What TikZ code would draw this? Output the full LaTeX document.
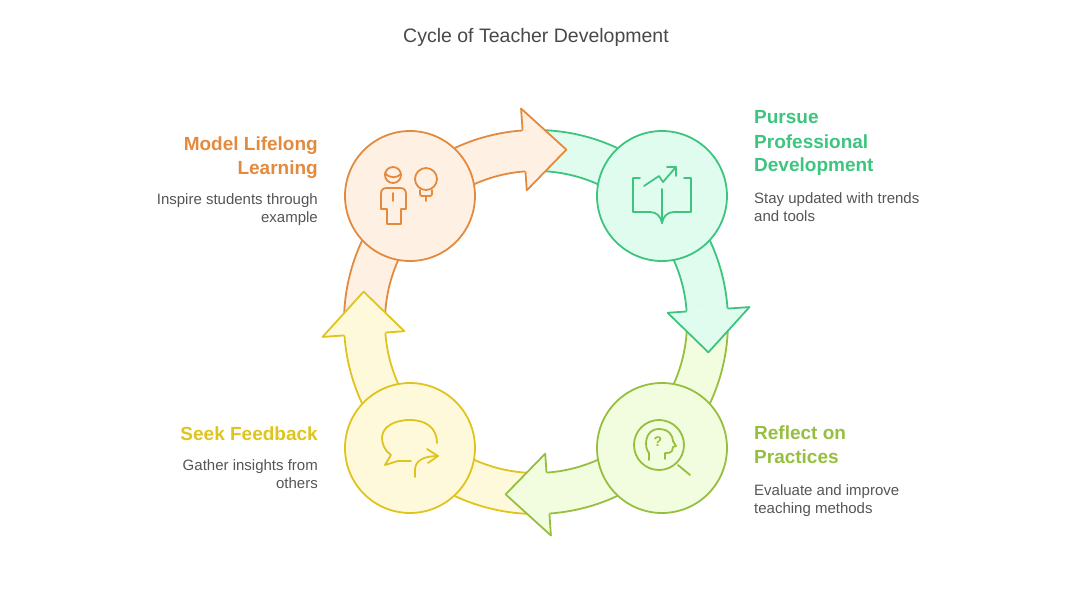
\documentclass[tikz,border=0pt]{standalone}
\usepackage{fontspec}
\setmainfont{Liberation Sans}
\usetikzlibrary{arrows.meta}
\definecolor{orangeline}{HTML}{E38A3E}
\definecolor{orangefill}{HTML}{FEF0E3}
\definecolor{greenline}{HTML}{3DC47E}
\definecolor{greenfill}{HTML}{E0FCEF}
\definecolor{limeline}{HTML}{96BF3F}
\definecolor{limefill}{HTML}{F2FDE0}
\definecolor{yellowline}{HTML}{E0C41E}
\definecolor{yellowfill}{HTML}{FEF9DB}
\definecolor{textgray}{HTML}{555555}

\begin{document}
\begin{tikzpicture}[x=1pt, y=1pt, line join=round,
  stage/.style={circle, draw, line width=1.8pt, minimum size=130pt, inner sep=0pt},
  icon/.style={line width=1.8pt, line cap=round},
  heading/.style={font=\fontsize{19}{24}\selectfont\bfseries, inner sep=0pt},
  desc/.style={font=\fontsize{15}{18}\selectfont, text=textgray, inner sep=0pt}]

  \newcommand\Rin{151}
  \newcommand\Rout{192}

  \useasboundingbox (-536,-281) rectangle (536,322);

  \foreach \a/\f/\l in {0/orangefill/orangeline, 90/greenfill/greenline,
                        180/limefill/limeline, 270/yellowfill/yellowline}{
    \begin{scope}[rotate=-\a]
      \fill[\f] (180:\Rout) arc[start angle=180, end angle=94, radius=\Rout]
        -- (94:\Rin) arc[start angle=94, end angle=180, radius=\Rin] -- cycle;
      \draw[\l, line width=1.8pt] (180:\Rout) arc[start angle=180, end angle=94, radius=\Rout];
      \draw[\l, line width=1.8pt] (94:\Rin) arc[start angle=94, end angle=180, radius=\Rin];
    \end{scope}
  }
  \foreach \a/\f/\l in {0/orangefill/orangeline, 90/greenfill/greenline,
                        180/limefill/limeline, 270/yellowfill/yellowline}{
    \filldraw[rotate=-\a, fill=\f, draw=\l, line width=1.8pt]
      (94:\Rout) -- (94:214) -- (80:175) -- (94:132) -- (94:\Rin);
  }

  \node[stage, draw=orangeline, fill=orangefill] (ml) at (-126,126) {};
  \node[stage, draw=greenline, fill=greenfill] (ppd) at (126,126) {};
  \node[stage, draw=limeline, fill=limefill] (rp) at (126,-126) {};
  \node[stage, draw=yellowline, fill=yellowfill] (sf) at (-126,-126) {};

  \begin{scope}[shift={(ml.center)}, yscale=-1, orangeline, icon]
    \draw (-17,-21) circle[radius=8];
    \draw (-25,-23) .. controls (-20,-17) and (-13,-18) .. (-9,-22);
    \draw (-23,28) -- (-23,13) -- (-29,13) -- (-29,-2) .. controls (-29,-6) and (-27,-8) .. (-23,-8)
      -- (-10,-8) .. controls (-6,-8) and (-4,-6) .. (-4,-2) -- (-4,13) -- (-9,13) -- (-9,28) -- cycle;
    \draw (-17,-3) -- (-17,5);
    \draw (16,-17) circle[radius=11];
    \draw[rounded corners=2] (10,-6) -- (10,0) -- (22,0) -- (22,-6);
    \draw (16,0) -- (16,5);
  \end{scope}

  \begin{scope}[shift={(ppd.center)}, yscale=-1, greenline, icon]
    \draw (-22,-18) -- (-29,-18) -- (-29,16) -- (-12,16) .. controls (-5,16) and (-1,21) .. (0,27)
      .. controls (1,21) and (5,16) .. (12,16) -- (29,16) -- (29,-18) -- (22,-18);
    \draw (0,-7) -- (0,27);
    \draw (-18,-10) -- (-3,-20) -- (1,-14) -- (14,-29);
    \draw (5,-29) -- (14,-29) -- (14,-20);
  \end{scope}

  \begin{scope}[shift={(rp.center)}, yscale=-1, limeline, icon]
    \draw (-3,-3) circle[radius=25];
    \draw (16,17) -- (28,27);
    \draw (-13,12) -- (-13,5) .. controls (-18,0) and (-18,-19) .. (-3,-19)
      .. controls (7,-19) and (11,-12) .. (11,-7) -- (14,-2) -- (11,-1) -- (10,3)
      .. controls (9,5) and (6,5) .. (3,5) -- (3,11);
    \node[font=\fontsize{14}{14}\selectfont\bfseries, text=limeline] (qmark) at (-4,-6) {?};
  \end{scope}

  \begin{scope}[shift={(sf.center)}, yscale=-1, yellowline, icon]
    \draw (1,13) -- (-12,13) -- (-25,17) -- (-19,7) .. controls (-25,3) and (-28,-4) .. (-28,-10)
      .. controls (-28,-21) and (-16,-28) .. (0,-28) .. controls (16,-28) and (27,-20) .. (27,-5);
    \draw (5,29) -- (5,22) .. controls (5,13) and (13,8) .. (28,8);
    \draw (17,1) -- (28,8) -- (18,15);
  \end{scope}

  \node[font=\fontsize{19.5}{24}\selectfont, text=textgray!85!black] (title) at (0,285)
    {Cycle of Teacher Development};

  \node[heading, text=orangeline, align=right, anchor=base east] (mlhead) at (-218,148)
    {Model Lifelong\\Learning};
  \node[desc, align=right, anchor=base east] (mltext) at (-218,100)
    {Inspire students through\\example};

  \node[heading, text=greenline, align=left, anchor=base west] (ppdhead) at (218,150)
    {Pursue\\Professional\\Development};
  \node[desc, align=left, anchor=base west] (ppdtext) at (218,101)
    {Stay updated with trends\\and tools};

  \node[heading, text=limeline, align=left, anchor=base west] (rphead) at (218,-141)
    {Reflect on\\Practices};
  \node[desc, align=left, anchor=base west] (rptext) at (218,-191)
    {Evaluate and improve\\teaching methods};

  \node[heading, text=yellowline, align=right, anchor=base east] (sfhead) at (-218,-118)
    {Seek Feedback};
  \node[desc, align=right, anchor=base east] (sftext) at (-218,-166)
    {Gather insights from\\others};
\end{tikzpicture}
\end{document}
